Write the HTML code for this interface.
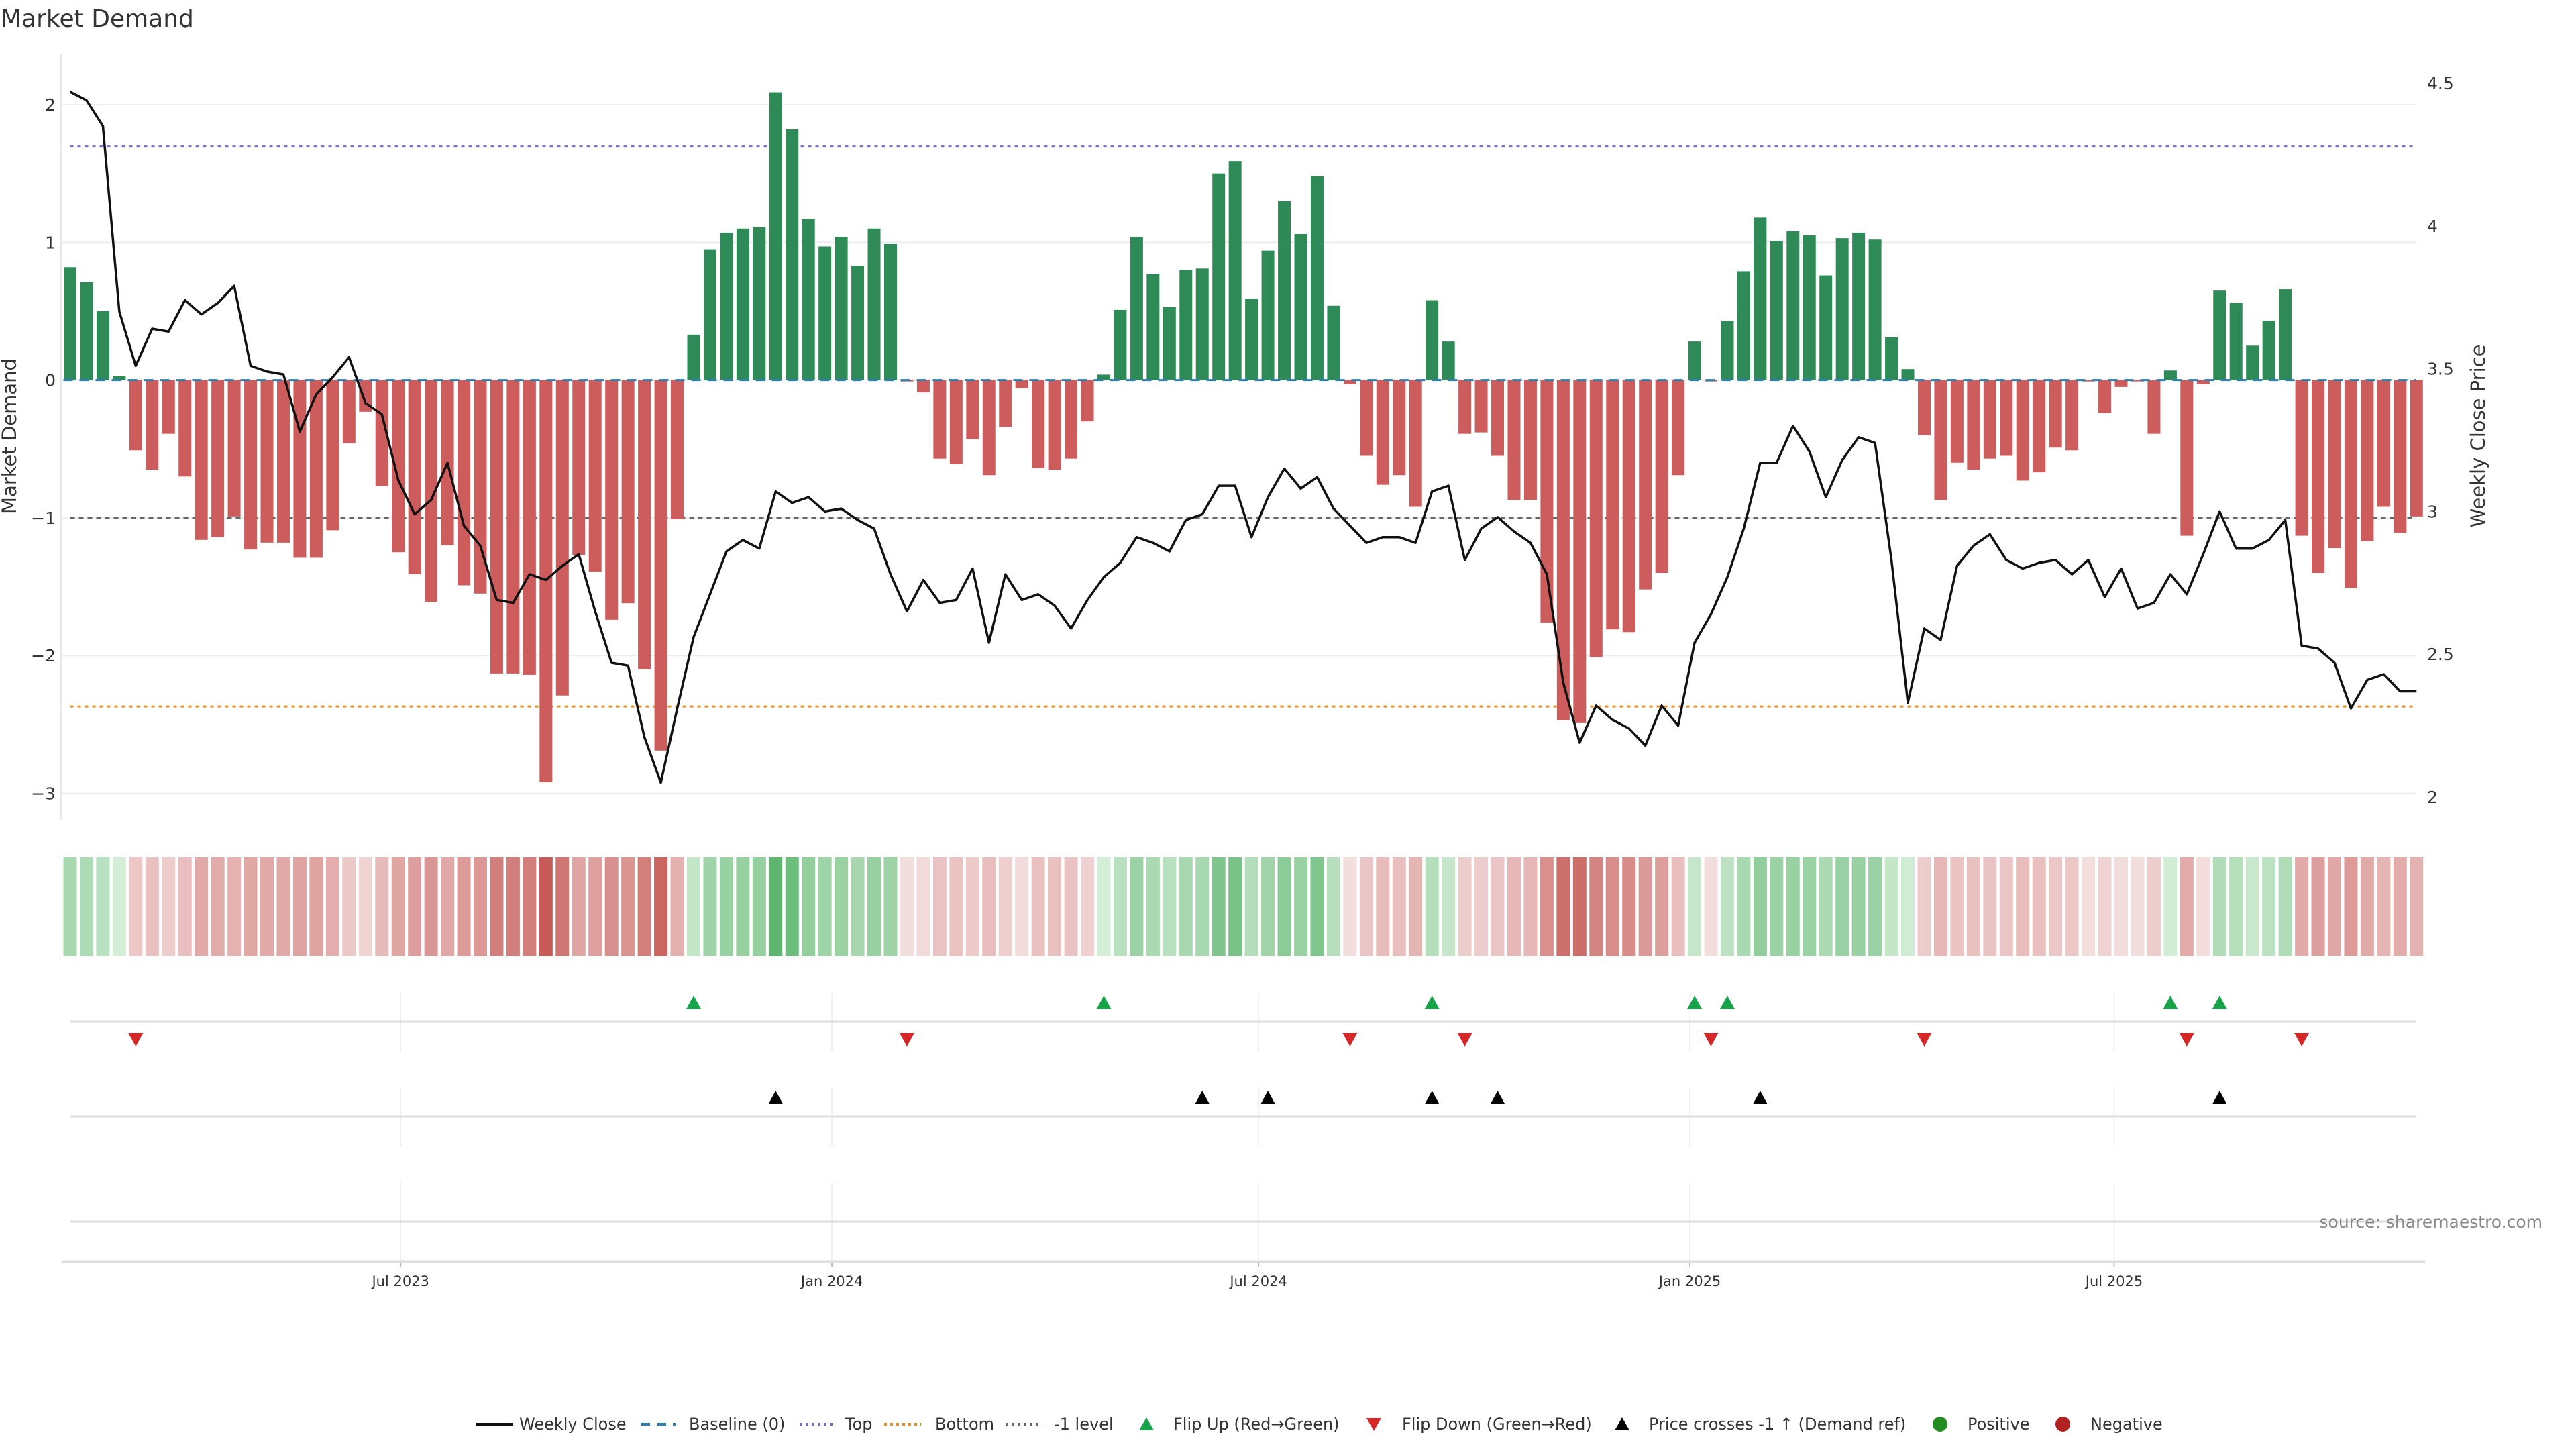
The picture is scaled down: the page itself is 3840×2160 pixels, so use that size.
<!DOCTYPE html>
<html><head><meta charset="utf-8"><style>
html,body{margin:0;padding:0;background:#fff;}
svg{display:block;font-family:"DejaVu Sans","Liberation Sans",sans-serif;}
</style></head><body>
<svg id="chart" width="3840" height="2160" viewBox="0 0 3840 2160" xmlns="http://www.w3.org/2000/svg">
<rect width="3840" height="2160" fill="#fff"/>
<text x="1" y="40" font-size="36" fill="#333">Market Demand</text>
<g id="grid"></g><g id="refs"></g><g id="bars"></g><g id="line"></g><g id="heat"></g><g id="panels"></g><g id="axes"></g>
<text x="3790" y="1830" font-size="25" fill="#888" text-anchor="end">source: sharemaestro.com</text>
<g id="legend"></g>
</svg>
<script>
const demandValues=[0.82,0.71,0.50,0.03,-0.51,-0.65,-0.39,-0.70,-1.16,-1.14,-0.99,-1.23,-1.18,-1.18,-1.29,-1.29,-1.09,-0.46,-0.23,-0.77,-1.25,-1.41,-1.61,-1.20,-1.49,-1.55,-2.13,-2.13,-2.14,-2.92,-2.29,-1.27,-1.39,-1.74,-1.62,-2.10,-2.69,-1.01,0.33,0.95,1.07,1.10,1.11,2.09,1.82,1.17,0.97,1.04,0.83,1.10,0.99,-0.01,-0.09,-0.57,-0.61,-0.43,-0.69,-0.34,-0.06,-0.64,-0.65,-0.57,-0.30,0.04,0.51,1.04,0.77,0.53,0.80,0.81,1.50,1.59,0.59,0.94,1.30,1.06,1.48,0.54,-0.03,-0.55,-0.76,-0.69,-0.92,0.58,0.28,-0.39,-0.38,-0.55,-0.87,-0.87,-1.76,-2.47,-2.49,-2.01,-1.81,-1.83,-1.52,-1.40,-0.69,0.28,-0.01,0.43,0.79,1.18,1.01,1.08,1.05,0.76,1.03,1.07,1.02,0.31,0.08,-0.40,-0.87,-0.60,-0.65,-0.57,-0.55,-0.73,-0.67,-0.49,-0.51,-0.01,-0.24,-0.05,-0.01,-0.39,0.07,-1.13,-0.03,0.65,0.56,0.25,0.43,0.66,-1.13,-1.40,-1.22,-1.51,-1.17,-0.92,-1.11,-0.99];
const closePrices=[4.47,4.44,4.35,3.70,3.51,3.64,3.63,3.74,3.69,3.73,3.79,3.51,3.49,3.48,3.28,3.41,3.47,3.54,3.38,3.34,3.11,2.99,3.04,3.17,2.95,2.88,2.69,2.68,2.78,2.76,2.81,2.85,2.65,2.47,2.46,2.21,2.05,2.31,2.56,2.71,2.86,2.90,2.87,3.07,3.03,3.05,3.00,3.01,2.97,2.94,2.78,2.65,2.76,2.68,2.69,2.80,2.54,2.78,2.69,2.71,2.67,2.59,2.69,2.77,2.82,2.91,2.89,2.86,2.97,2.99,3.09,3.09,2.91,3.05,3.15,3.08,3.12,3.01,2.95,2.89,2.91,2.91,2.89,3.07,3.09,2.83,2.94,2.98,2.93,2.89,2.78,2.40,2.19,2.32,2.27,2.24,2.18,2.32,2.25,2.54,2.64,2.77,2.94,3.17,3.17,3.30,3.21,3.05,3.18,3.26,3.24,2.83,2.33,2.59,2.55,2.81,2.88,2.92,2.83,2.80,2.82,2.83,2.78,2.83,2.70,2.80,2.66,2.68,2.78,2.71,2.85,3.00,2.87,2.87,2.90,2.97,2.53,2.52,2.47,2.31,2.41,2.43,2.37,2.37];
const startDate="2023-02-10";
const leftTicks=[-3,-2,-1,0,1,2];
const leftTickLabels=["−3","−2","−1","0","1","2"];
const rightTicks=[2,2.5,3,3.5,4,4.5];
const rightTickLabels=["2","2.5","3","3.5","4","4.5"];
const dateTicks=["2023-07-01","2024-01-01","2024-07-01","2025-01-01","2025-07-01"];
const dateTickLabels=["Jul 2023","Jan 2024","Jul 2024","Jan 2025","Jul 2025"];
const topLevel=[1.70];
const bottomLevel=[-2.37];
const minusLevel=[-1];

const NS="http://www.w3.org/2000/svg";
const X0=104.5,STEP=24.46;
const xi=i=>X0+i*STEP;
const t0=Date.parse(startDate);
const xd=s=>X0+(Date.parse(s)-t0)/86400000/7*STEP;
const yD=v=>566.6-v*205.3;
const yP=p=>1188-(p-2)*425.6;
const pFromY=y=>2+(1188-y)/425.6;
const XL=93,XR=3602;
function mk(tag,attrs,parent){const e=document.createElementNS(NS,tag);for(const k in attrs)e.setAttribute(k,attrs[k]);parent.appendChild(e);return e;}
const G=id=>document.getElementById(id);

const grid=G('grid');
leftTicks.forEach(v=>{const l=mk('line',{x1:XL,x2:XR,y1:yD(v),y2:yD(v),stroke:'#eceef2','stroke-width':2},grid);

});
const refs=G('refs');
function refLine(v,color,dash,name){const l=mk('line',{x1:X0,x2:XR,y1:yD(v),y2:yD(v),stroke:color,'stroke-width':3,'stroke-dasharray':dash},refs);

}
refLine(topLevel[0],'#7766cc','5 6','top-level-line');
refLine(minusLevel[0],'#666','7 6','minus-one-level-line');
refLine(bottomLevel[0],'#e8901f','5 6','bottom-level-line');
const bars=G('bars');const BW=19;
demandValues.forEach((v,i)=>{const y=Math.min(yD(v),yD(0)),h=Math.abs(yD(v)-yD(0));
const r=mk('rect',{x:xi(i)-BW/2,y:y,width:BW,height:Math.max(h,0.5),fill:v>0?'#2e8b57':'#cd5c5c'},bars);

});
const lineG=G('line');
const bl=mk('line',{x1:X0-10,x2:XR,y1:yD(0),y2:yD(0),stroke:'#2f7fb0','stroke-width':3,'stroke-dasharray':'14 10'},lineG);


const pl=mk('polyline',{points:closePrices.map((p,i)=>xi(i)+','+yP(p)).join(' '),fill:'none',stroke:'#111','stroke-width':3.5,'stroke-linejoin':'round'},lineG);


const ax=G('axes');
mk('line',{x1:91,x2:91,y1:80,y2:1222,stroke:'#e6e8ec','stroke-width':2},ax);
leftTicks.forEach((v,k)=>{const t=mk('text',{x:83,y:yD(v)+9,'font-size':25,fill:'#333','text-anchor':'end'},ax);t.textContent=leftTickLabels[k];

});
rightTicks.forEach((v,k)=>{const t=mk('text',{x:3618,y:yP(v)+9,'font-size':25,fill:'#333'},ax);t.textContent=rightTickLabels[k];

});
let yt=mk('text',{x:0,y:0,'font-size':29,fill:'#333','text-anchor':'middle',transform:'translate(24,650) rotate(-90)'},ax);yt.textContent='Market Demand';


yt=mk('text',{x:0,y:0,'font-size':29,fill:'#333','text-anchor':'middle',transform:'translate(3704,650) rotate(-90)'},ax);yt.textContent='Weekly Close Price';


const heat=G('heat');
function mix(a,b,t){return 'rgb('+a.map((c,k)=>Math.round(c+(b[k]-c)*t)).join(',')+')';}
demandValues.forEach((v,i)=>{const c=v>0?mix([214,238,217],[93,181,110],Math.min(v/2.1,1)):mix([243,222,222],[198,91,87],Math.min(-v/2.92,1));
const r=mk('rect',{x:xi(i)-10,y:1278,width:20,height:147,fill:c},heat);

});
const pan=G('panels');
dateTicks.forEach((d,k)=>{const x=xd(d);
[[1480,1567],[1621,1708],[1763,1880]].forEach(s=>mk('line',{x1:x,x2:x,y1:s[0],y2:s[1],stroke:'#eef0f3','stroke-width':2},pan));
mk('line',{x1:x,x2:x,y1:1881,y2:1889,stroke:'#bbb','stroke-width':2},pan);
const t=mk('text',{x:x,y:1917,'font-size':21,fill:'#333','text-anchor':'middle'},pan);t.textContent=dateTickLabels[k];

});
[1523,1664,1821].forEach(y=>mk('line',{x1:X0,x2:XR,y1:y,y2:y,stroke:'#ddd','stroke-width':3},pan));
mk('line',{x1:XL,x2:3615,y1:1881,y2:1881,stroke:'#ddd','stroke-width':3},pan);
function tri(x,y,up,color,name){const s=11;const pts=up?`${x-s},${y+10} ${x+s},${y+10} ${x},${y-10}`:`${x-s},${y-10} ${x+s},${y-10} ${x},${y+10}`;
const p=mk('polygon',{points:pts,fill:color},pan);

}
const refPrice=pFromY(yD(minusLevel[0]));
for(let i=1;i<demandValues.length;i++){
 if(demandValues[i]>0&&demandValues[i-1]<=0)tri(xi(i),1494,true,'#16a34a','flip-up-marker');
 if(demandValues[i]<=0&&demandValues[i-1]>0)tri(xi(i),1550,false,'#d62728','flip-down-marker');
 if(closePrices[i]>refPrice&&closePrices[i-1]<=refPrice)tri(xi(i),1636,true,'#000','price-cross-marker');
}
const lg=G('legend');const LY=2123;
function ltext(x,s){const t=mk('text',{x:x,y:LY+8,'font-size':24,fill:'#333'},lg);t.textContent=s;

}
mk('line',{x1:710,x2:765,y1:LY,y2:LY,stroke:'#111','stroke-width':4},lg);ltext(774,'Weekly Close');
mk('line',{x1:955,x2:1008,y1:LY,y2:LY,stroke:'#2f7fb0','stroke-width':4,'stroke-dasharray':'14 10'},lg);ltext(1027,'Baseline (0)');
mk('line',{x1:1192,x2:1244,y1:LY,y2:LY,stroke:'#7766cc','stroke-width':4,'stroke-dasharray':'4 5'},lg);ltext(1260,'Top');
mk('line',{x1:1318,x2:1373,y1:LY,y2:LY,stroke:'#e8901f','stroke-width':4,'stroke-dasharray':'4 5'},lg);ltext(1394,'Bottom');
mk('line',{x1:1499,x2:1554,y1:LY,y2:LY,stroke:'#666','stroke-width':4,'stroke-dasharray':'4 5'},lg);ltext(1571,'-1 level');
mk('polygon',{points:`1698,${LY+9} 1720,${LY+9} 1709,${LY-10}`,fill:'#16a34a'},lg);ltext(1749,'Flip Up (Red→Green)');
mk('polygon',{points:`2037,${LY-9} 2059,${LY-9} 2048,${LY+10}`,fill:'#d62728'},lg);ltext(2090,'Flip Down (Green→Red)');
mk('polygon',{points:`2407,${LY+9} 2429,${LY+9} 2418,${LY-10}`,fill:'#000'},lg);ltext(2458,'Price crosses -1 ↑ (Demand ref)');
mk('circle',{cx:2892,cy:LY,r:11,fill:'#228b22'},lg);ltext(2933,'Positive');
mk('circle',{cx:3075,cy:LY,r:11,fill:'#b22222'},lg);ltext(3116,'Negative');
</script>
</body></html>
